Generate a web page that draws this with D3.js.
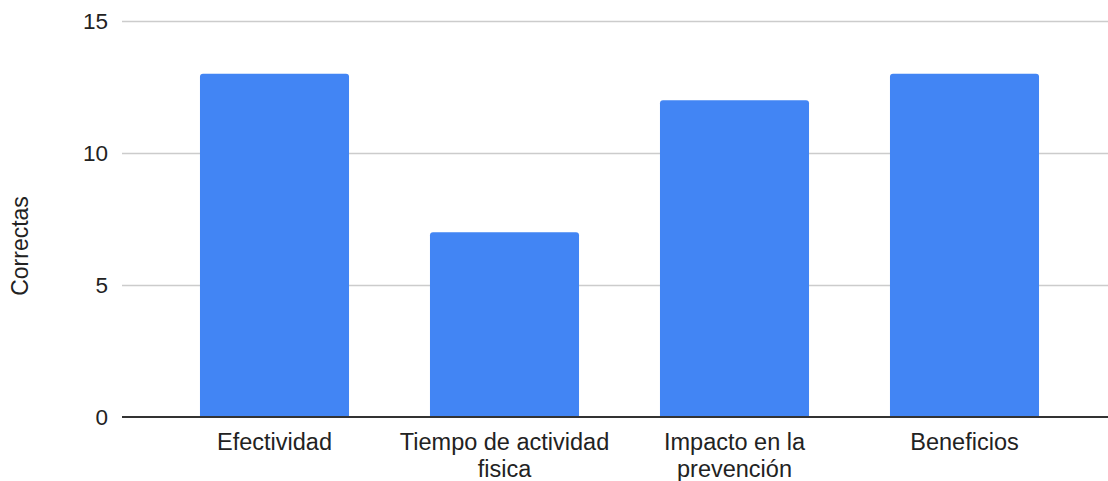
<!DOCTYPE html>
<html>
<head>
<meta charset="utf-8">
<script src="https://cdn.jsdelivr.net/npm/d3@7"></script>
<style>
  html, body { margin: 0; padding: 0; background: #fff; }
  svg { display: block; font-family: "Liberation Sans", Arial, sans-serif; }
</style>
</head>
<body>
<svg id="chart" width="1108" height="481"></svg>
<script>
// Categories and counts of correct answers
const categories = ["Efectividad", "Tiempo de actividad fisica", "Impacto en la prevención", "Beneficios"];
const correctas = [13, 7, 12, 13];
const yTicks = [0, 5, 10, 15];
const yTitle = "Correctas";

const svg = d3.select("#chart");
const W = 1108, H = 481;
const plot = { left: 122, right: 1108, top: 21, bottom: 417 };

const x = d3.scaleBand()
  .domain(categories)
  .range([159.5, 1079.5])
  .paddingInner(0.352)
  .paddingOuter(0.176);

const y = d3.scaleLinear()
  .domain([0, 15])
  .range([plot.bottom, plot.top]);

// Horizontal gridlines
svg.append("g")
  .selectAll("line")
  .data(yTicks.filter(d => d !== 0))
  .join("line")
  .attr("x1", plot.left)
  .attr("x2", plot.right)
  .attr("y1", d => Math.round(y(d)) + 0.5)
  .attr("y2", d => Math.round(y(d)) + 0.5)
  .attr("stroke", "#cccccc")
  .attr("stroke-width", 1.3);

// Y tick labels
svg.append("g")
  .selectAll("text")
  .data(yTicks)
  .join("text")
  .attr("x", 108)
  .attr("y", d => y(d))
  .attr("dy", "0.36em")
  .attr("text-anchor", "end")
  .attr("font-size", 22.5)
  .attr("fill", "#222")
  .text(d => d);

// Y axis title
svg.append("text")
  .attr("transform", `translate(28, ${(plot.top + plot.bottom) / 2 + 27}) rotate(-90)`)
  .attr("text-anchor", "middle")
  .attr("font-size", 23)
  .attr("fill", "#222")
  .text(yTitle);

// Bars with rounded top corners
const r = 3;
function barPath(x0, w, yTop, yBase) {
  return `M${x0},${yBase}V${yTop + r}Q${x0},${yTop} ${x0 + r},${yTop}` +
         `H${x0 + w - r}Q${x0 + w},${yTop} ${x0 + w},${yTop + r}V${yBase}Z`;
}
svg.append("g")
  .selectAll("path")
  .data(categories.map((c, i) => ({ c, v: correctas[i] })))
  .join("path")
  .attr("d", d => barPath(x(d.c), x.bandwidth(), y(d.v), y(0)))
  .attr("fill", "#4285f4");

// Baseline
svg.append("line")
  .attr("x1", plot.left)
  .attr("x2", plot.right)
  .attr("y1", y(0))
  .attr("y2", y(0))
  .attr("stroke", "#333")
  .attr("stroke-width", 2);

// Category labels, wrapped to the band step
const labels = svg.append("g")
  .selectAll("text")
  .data(categories)
  .join("text")
  .attr("x", d => x(d) + x.bandwidth() / 2)
  .attr("y", 450)
  .attr("text-anchor", "middle")
  .attr("font-size", 23.5)
  .attr("fill", "#222");

labels.each(function (d) {
  const t = d3.select(this);
  const maxW = x.step() - 4;
  const words = d.split(" ");
  let line = [];
  let lines = [];
  const probe = t.append("tspan");
  words.forEach(w => {
    const test = line.concat([w]).join(" ");
    probe.text(test);
    if (probe.node().getComputedTextLength() > maxW && line.length) {
      lines.push(line.join(" "));
      line = [w];
    } else {
      line.push(w);
    }
  });
  lines.push(line.join(" "));
  probe.remove();
  lines.forEach((l, i) => {
    t.append("tspan")
      .attr("x", x(d) + x.bandwidth() / 2)
      .attr("dy", i === 0 ? 0 : 27)
      .text(l);
  });
});
</script>
</body>
</html>
